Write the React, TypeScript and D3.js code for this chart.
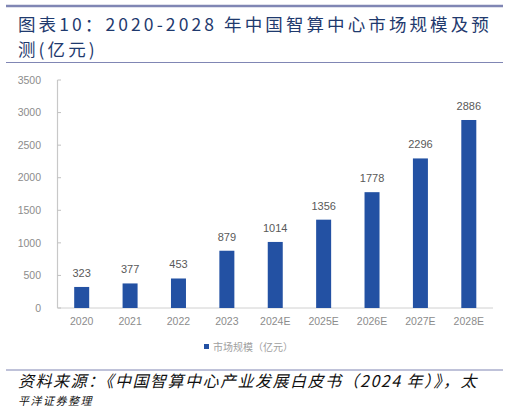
import React from "react";
import * as d3 from "d3";

const categories = ["2020", "2021", "2022", "2023", "2024E", "2025E", "2026E", "2027E", "2028E"];
const values = [323, 377, 453, 879, 1014, 1356, 1778, 2296, 2886];
const yTicks = [0, 500, 1000, 1500, 2000, 2500, 3000, 3500];
const legendLabel = "市场规模（亿元）";
const titleLine1 = "图表10：2020-2028 年中国智算中心市场规模及预";
const titleLine2 = "测(亿元)";
const sourceLine1 = "资料来源：《中国智算中心产业发展白皮书（2024 年）》，太";
const sourceLine2 = "平洋证券整理";

export default function App() {
  const W = 507, H = 410;
  const x = d3.scaleBand<string>().domain(categories).range([57.5, 493]).paddingInner(0.69).paddingOuter(0.345);
  const y = d3.scaleLinear().domain([0, 3500]).range([308, 80]);
  const cjk = "'Noto Sans CJK SC', sans-serif";
  const lineColor = "#8086b4";
  return (
    <svg width={W} height={H} style={{ position: "absolute", left: 0, top: 0, background: "#fff" }}>
      <rect x={0} y={0} width={W} height={H} fill="#fff" />
      <line x1={6} x2={503} y1={6} y2={6} stroke={lineColor} strokeWidth={2.5} />
      <text x={18} y={31} fontFamily={cjk} fontSize={17.5} fill="#1f3a6e" letterSpacing={3.1}>{titleLine1}</text>
      <text x={18} y={56} fontFamily={cjk} fontSize={17.5} fill="#1f3a6e" letterSpacing={3.1}>{titleLine2}</text>
      <line x1={6} x2={503} y1={62.5} y2={62.5} stroke={lineColor} strokeWidth={1} />

      <line x1={57.5} x2={57.5} y1={y(3500)} y2={y(0)} stroke="#c8c8c8" strokeWidth={1.2} />
      <line x1={57.5} x2={493} y1={y(0)} y2={y(0)} stroke="#d0d0d0" strokeWidth={1} />
      {yTicks.map((t) => (
        <g key={t}>
          <line x1={57.5} x2={61} y1={y(t)} y2={y(t)} stroke="#c0c0c0" />
          <text x={41} y={y(t)} dy="0.35em" textAnchor="end" fontFamily="'Liberation Sans', Arial, sans-serif" fontSize={10.5} fill="#8c8c8c">{t}</text>
        </g>
      ))}
      {categories.map((c, i) => (
        <g key={c}>
          <rect x={x(c)!} y={y(values[i])} width={x.bandwidth()} height={y(0) - y(values[i])} fill="#2351a3" />
          <text x={x(c)! + x.bandwidth() / 2} y={y(values[i]) - 10} textAnchor="middle" fontFamily="'Liberation Sans', Arial, sans-serif" fontSize={11} fill="#595959">{values[i]}</text>
          <text x={x(c)! + x.bandwidth() / 2} y={325} textAnchor="middle" fontFamily="'Liberation Sans', Arial, sans-serif" fontSize={10.5} fill="#8c8c8c">{c}</text>
        </g>
      ))}
      <rect x={204} y={344} width={5} height={5} fill="#2351a3" />
      <text x={213} y={350.5} fontFamily={cjk} fontSize={10} fill="#a0a0a0">{legendLabel}</text>

      <line x1={6} x2={503} y1={370} y2={370} stroke={lineColor} strokeWidth={1.2} />
      <text x={18} y={387} fontFamily={cjk} fontSize={16} fontStyle="italic" fill="#111" letterSpacing={1.5}>{sourceLine1}</text>
      <text x={18} y={405} fontFamily={cjk} fontSize={11} fontStyle="italic" fill="#111" letterSpacing={1.5}>{sourceLine2}</text>
    </svg>
  );
}
